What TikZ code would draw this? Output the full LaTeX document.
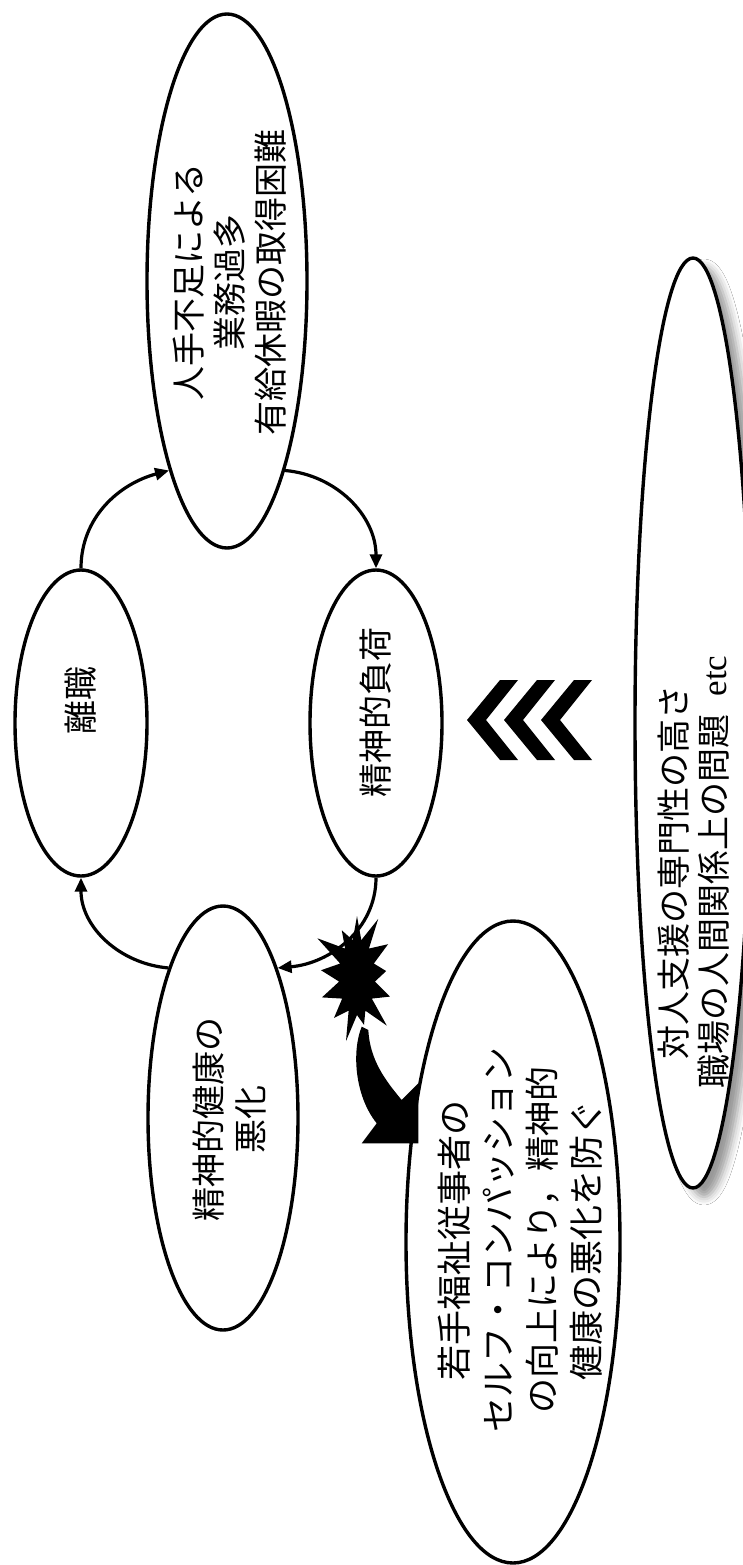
\documentclass[tikz,border=0pt]{standalone}
\usepackage{fontspec}
\setmainfont{Liberation Serif}
\newfontfamily\jp{Noto Sans CJK JP}
\usetikzlibrary{shapes.geometric,shapes.symbols,arrows.meta,shadows.blur}
\begin{document}
\begin{tikzpicture}[x=1pt,y=1pt,
  oval/.style={ellipse, draw, line width=3.4pt, fill=white, inner sep=0pt},
  lbl/.style={rotate=90, align=center, inner sep=0pt, font=\jp\fontsize{34}{41}\selectfont},
  lblb/.style={rotate=90, align=center, inner sep=0pt, font=\jp\fontsize{35}{44}\selectfont},
  cyc/.style={line width=3.2pt, -{Triangle[length=14pt,width=12pt]}},
  blk/.style={fill=black, draw=none},
]
\clip (0,0) rectangle (743,-1565);
\fill[white] (0,0) rectangle (743,-1565);

% ellipses
\node[oval, minimum width=132pt, minimum height=306pt] (L) at (81,-723) {};
\node[oval, minimum width=160pt, minimum height=534pt] (A) at (227,-281) {};
\node[oval, minimum width=132pt, minimum height=306pt] (B) at (376,-723) {};
\node[oval, minimum width=150pt, minimum height=424pt] (C) at (223,-1118) {};
\node[oval, minimum width=214pt, minimum height=642pt] (D) at (513,-1242) {};
\node[oval, minimum width=116pt, minimum height=930pt,
  blur shadow={shadow xshift=11pt, shadow yshift=-9pt, shadow blur radius=8pt, shadow opacity=40}] (E) at (693,-723) {};

% texts
\node[lbl] (tL) at (81,-700) {離職};
\node[lbl] (tA) at (230,-282) {人手不足による\\業務過多\\有給休暇の取得困難};
\node[lbl] (tB) at (376,-712) {精神的負荷};
\node[lbl, font=\jp\fontsize{34}{42}\selectfont] (tC) at (229,-1119) {精神的健康の\\悪化};
\node[lblb] (tD) at (520,-1240) {若手福祉従事者の\\セルフ・コンパッション\\の向上により，精神的\\健康の悪化を防ぐ};
\node[lbl, font=\jp\fontsize{34}{40}\selectfont] (tE) at (694,-872) {対人支援の専門性の高さ\\職場の人間関係上の問題\hspace{18pt}{\rmfamily\fontsize{35}{40}\selectfont etc}};

% cycle arrows
\draw[cyc] (L.north) to[out=90,in=195] (A.253);
\draw[cyc] (A.287) to[out=-5,in=90] (B.north);
\draw[cyc] (B.south) to[out=-90,in=5] (C.70);
\draw[cyc] (C.110) to[out=175,in=-90] (L.south);

% curved block arrow
\fill[blk] (361.7,-1026.7) .. controls (352,-1050) and (354,-1095) .. (376.7,-1123.3)
  -- (361.7,-1143.3) -- (418.3,-1143.3) -- (418.3,-1083.3) -- (401.7,-1100)
  .. controls (385,-1080) and (370,-1060) .. (368.3,-1030) -- cycle;

% starburst
\node[starburst, blk, minimum width=100pt, minimum height=140pt,
  starburst points=13, starburst point height=32pt, inner sep=0pt] (burst) at (357,-977) {};

% chevrons
\foreach \t in {467,504,541}{
  \fill[blk] (\t,-720) -- (\t+33,-680) -- (\t+51,-680) -- (\t+19,-720)
    -- (\t+51,-760) -- (\t+33,-760) -- cycle;
}
\end{tikzpicture}
\end{document}
